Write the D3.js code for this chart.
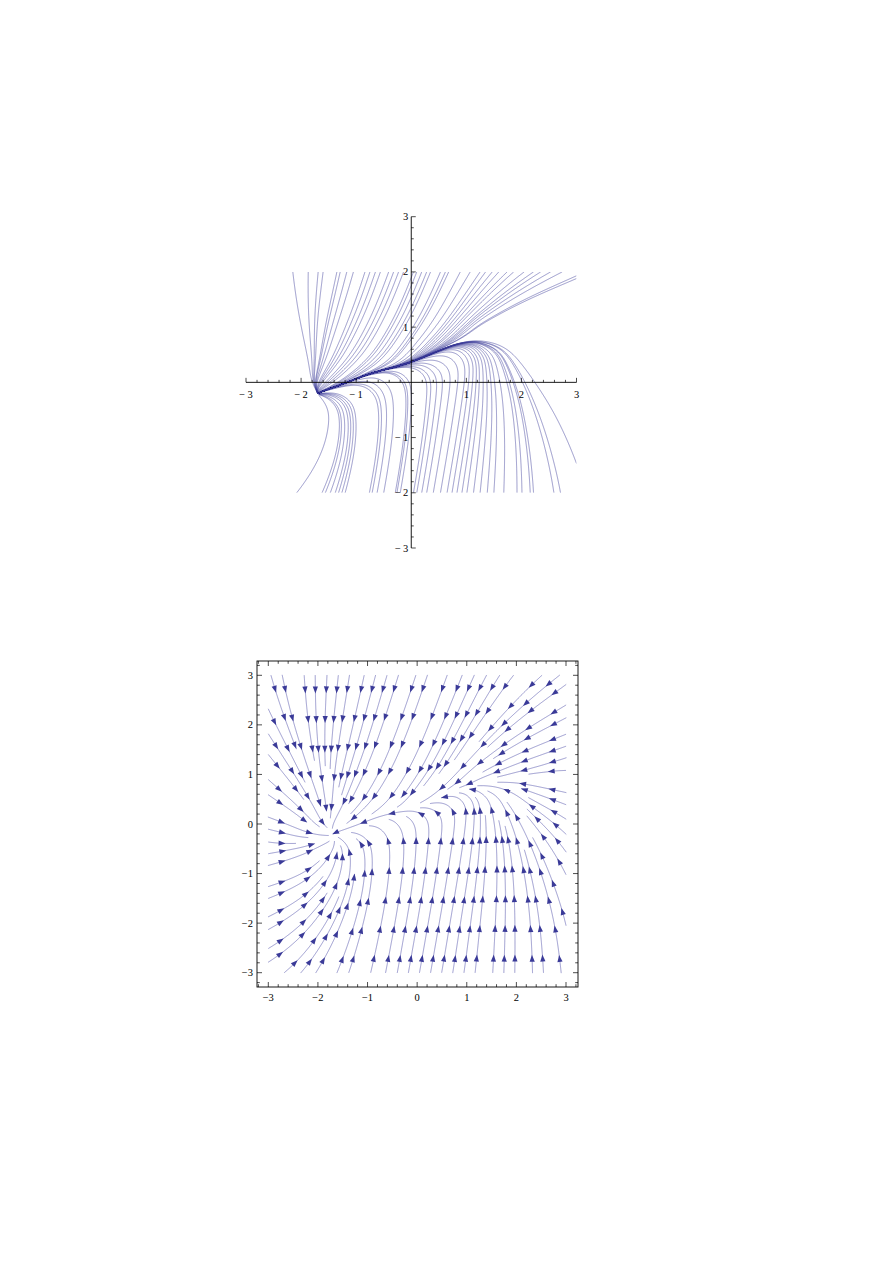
<!DOCTYPE html>
<html><head><meta charset="utf-8">
<script src="https://cdn.jsdelivr.net/npm/d3@7"></script>
<style>
body{margin:0;background:#fff}
svg{display:block}
text{font-family:"Liberation Serif","DejaVu Serif",serif;font-size:10.5px;fill:#000}
</style></head>
<body><svg id="c" width="893" height="1263"></svg>
<script>
// ---------- data ----------
const gridX = [-3,-2.5,-2,-1.5,-1,-0.5,0,0.5,1,1.5,2,2.5,3];
const gridY = [3,2.5,2,1.5,1,0.5,0,-0.5,-1,-1.5,-2,-2.5,-3];
const gridAngle = [
[-72,-85,-90,-97,-103,-107,-108,-109,-111,-118,-128,-137,-142],
[-65,-80,-90,-99,-105,-108,-109,-110,-114,-123,-134,-143,-148],
[-57,-74,-88,-100,-107,-110,-111,-112,-118,-130,-142,-150,-155],
[-50,-66,-85,-103,-110,-112,-113,-116,-124,-140,-152,-160,-165],
[-42,-56,-78,-106,-116,-119,-120,-124,-138,-158,-170,-176,178],
[-30,-44,-68,-112,-125,-125,-128,-161,78,105,135,158,165],
[-14,-25,-55,-150,-161,115,92,82,80,95,112,135,145],
[0,6,30,105,95,90,86,82,80,90,100,118,128],
[12,20,45,82,86,84,83,81,80,88,95,108,118],
[20,30,50,72,80,81,81,80,80,87,92,102,112],
[26,37,55,70,78,80,80,80,81,87,90,97,105],
[29,42,57,70,77,80,80,80,82,87,90,94,100],
[31,45,60,70,77,80,80,80,82,87,89,92,97]];
// attracting curves seen in both pictures
const mainX  = [-1.5,-1.2,-0.9,-0.6,-0.3,0,0.3,0.6,0.9,1.15];     // flow to the left
const mainY  = [-0.19,-0.09,0.02,0.12,0.22,0.32,0.43,0.54,0.65,0.74];
const rightX = [1.45,1.8,2.2,2.6,3.0];                            // flow to the left
const rightY = [0.82,0.89,0.97,1.06,1.18];
const leftX  = [-3.0,-2.6,-2.2,-1.9];                             // flow to the right
const leftY  = [-0.52,-0.45,-0.36,-0.29];
const nodeA  = [-1.7,-0.25];
// start points of the trajectories of the upper picture
const topStartX = [-2.15,-1.87,-1.69,-1.6,-1.35,-1.29,-1.17,-1.05,-0.84,-0.75,-0.65,-0.56,-0.41,-0.32,-0.23,-0.14,0.04,0.1,0.19,0.28,0.35,0.53,0.62,0.68,0.89,1.07,1.25,1.35,1.47,1.59,1.74,1.86,2.05,2.22,2.35,2.53,2.74];
const bottomStartX = [-2.08,-1.62,-1.56,-1.47,-1.38,-1.32,-1.26,-1.2,-0.76,-0.71,-0.62,-0.5,-0.29,-0.26,-0.2,0.04,0.1,0.19,0.28,0.4,0.53,0.65,0.74,0.83,0.92,1.01,1.13,1.25,1.38,1.5,1.68,1.92,2.01,2.16,2.22,2.59,2.71];
const rightStartY = [1.93,1.88,-1.47];
// tick labels
const axisTicks1 = [-3,-2,-1,1,2,3];
const frameTicks2 = [-3,-2,-1,0,1,2,3];

// ---------- vector field from the samples ----------
const samples = [];
gridY.forEach((gy,r)=>gridX.forEach((gx,c)=>{
  const a = gridAngle[r][c]*Math.PI/180;
  samples.push({x:gx,y:gy,u:Math.cos(a),v:Math.sin(a),s2:0.18,w:1});
}));
function addCurve(xs,ys,sign,k){
  xs.forEach((x,i)=>{
    const i0=Math.max(0,i-1), i1=Math.min(xs.length-1,i+1);
    let tx=(xs[i1]-xs[i0])*sign, ty=(ys[i1]-ys[i0])*sign;
    const L=Math.hypot(tx,ty); tx/=L; ty/=L;
    [[1,-k],[-1,k]].forEach(([side,dv])=>{
      const ux=tx, uy=ty+dv, m=Math.hypot(ux,uy);
      samples.push({x:x,y:ys[i]+side*0.09,u:ux/m,v:uy/m,s2:0.05,w:1.5});
    });
  });
}
addCurve(mainX,mainY,-1,1.4);
addCurve(rightX,rightY,-1,0.6);
addCurve(leftX,leftY,1,0.7);

const F0=-3.1, FS=0.025, FN=249;
const FU=new Float32Array(FN*FN), FV=new Float32Array(FN*FN);
for(let j=0;j<FN;j++){const y=F0+j*FS;
  for(let i=0;i<FN;i++){const x=F0+i*FS;
    let su=0,sv=0,sw=0;
    for(const s of samples){const dx=x-s.x, dy=y-s.y, d2=dx*dx+dy*dy;
      if(d2>1.2) continue;
      const w=s.w*Math.exp(-d2/s.s2); su+=w*s.u; sv+=w*s.v; sw+=w;}
    FU[j*FN+i]=sw>0?su/sw:0; FV[j*FN+i]=sw>0?sv/sw:0;
  }}
function field(x,y){
  let gx=(x-F0)/FS, gy=(y-F0)/FS;
  gx=Math.max(0,Math.min(FN-1.001,gx)); gy=Math.max(0,Math.min(FN-1.001,gy));
  const i=Math.floor(gx), j=Math.floor(gy), fx=gx-i, fy=gy-j;
  const a=j*FN+i, b=a+1, c=a+FN, d=c+1;
  const u=(FU[a]*(1-fx)+FU[b]*fx)*(1-fy)+(FU[c]*(1-fx)+FU[d]*fx)*fy;
  const v=(FV[a]*(1-fx)+FV[b]*fx)*(1-fy)+(FV[c]*(1-fx)+FV[d]*fx)*fy;
  return [u,v];
}
function dir(x,y,s){const f=field(x,y), m=Math.hypot(f[0],f[1]);
  return m<1e-9?[0,0,0]:[s*f[0]/m,s*f[1]/m,m];}
function rk4(x,y,s,h){
  const k1=dir(x,y,s), k2=dir(x+h/2*k1[0],y+h/2*k1[1],s),
        k3=dir(x+h/2*k2[0],y+h/2*k2[1],s), k4=dir(x+h*k3[0],y+h*k3[1],s);
  return [x+h/6*(k1[0]+2*k2[0]+2*k3[0]+k4[0]), y+h/6*(k1[1]+2*k2[1]+2*k3[1]+k4[1]), k1];
}
function trace(x0,y0,s,opt){
  const pts=[[x0,y0]]; let x=x0,y=y0, prev=null;
  for(let n=0;n<opt.max;n++){
    const r=rk4(x,y,s,opt.h);
    const d=r[2];
    if(d[2]<opt.minMag) break;
    if(prev && prev[0]*d[0]+prev[1]*d[1]<0) break;
    prev=d;
    x=r[0]; y=r[1];
    if(x<opt.x0||x>opt.x1||y<opt.y0||y>opt.y1){pts.push([x,y]);break;}
    if(opt.stop && opt.stop(x,y)) break;
    pts.push([x,y]);
  }
  return pts;
}

const svg=d3.select('#c');
const LINE="#3c3c9a";

// ================= upper picture =================
const x1=d3.scaleLinear().domain([-3,3]).range([246,576.5]);
const y1=d3.scaleLinear().domain([-3,3]).range([548,216.7]);
svg.append('clipPath').attr('id','clip1').append('rect')
  .attr('x',x1(-3)).attr('y',y1(2)).attr('width',x1(3)-x1(-3)).attr('height',y1(-2)-y1(2));
const g1=svg.append('g');
const seeds1=[];
topStartX.forEach(v=>seeds1.push([v,2]));
bottomStartX.forEach(v=>seeds1.push([v,-2]));
rightStartY.forEach(v=>seeds1.push([3,v]));
const opt1={h:0.01,max:3000,minMag:0.06,x0:-3.01,x1:3.01,y0:-2.01,y1:2.01,
  stop:(x,y)=>Math.hypot(x-nodeA[0],y-nodeA[1])<0.02};
const line1=d3.line().x(d=>x1(d[0])).y(d=>y1(d[1]));
const gl=g1.append('g').attr('clip-path','url(#clip1)');
seeds1.forEach(s=>{
  const p=trace(s[0],s[1],1,opt1);
  gl.append('path').attr('d',line1(p)).attr('fill','none')
    .attr('stroke',LINE).attr('stroke-width',0.6).attr('stroke-opacity',0.85);
});
const ax=g1.append('g').attr('stroke','#000').attr('stroke-width',0.9);
ax.append('line').attr('x1',x1(-3)).attr('x2',x1(3)).attr('y1',y1(0)).attr('y2',y1(0));
ax.append('line').attr('x1',x1(0)).attr('x2',x1(0)).attr('y1',y1(-3)).attr('y2',y1(3));
d3.range(-3,3.001,0.2).forEach(v=>{
  const major=Math.abs(v-Math.round(v))<1e-6, L=major?4.5:2.5;
  if(Math.abs(v)<1e-6) return;
  ax.append('line').attr('x1',x1(v)).attr('x2',x1(v)).attr('y1',y1(0)).attr('y2',y1(0)-L).attr('stroke-width',0.7);
  ax.append('line').attr('y1',y1(v)).attr('y2',y1(v)).attr('x1',x1(0)).attr('x2',x1(0)+L).attr('stroke-width',0.7);
});
const fmt=v=>v<0?"\u2212\u2009"+Math.abs(v):String(v);
axisTicks1.forEach(v=>{
  g1.append('text').attr('x',x1(v)).attr('y',y1(0)+16).attr('text-anchor','middle').text(fmt(v));
  g1.append('text').attr('x',x1(0)-3).attr('y',y1(v)+3.5).attr('text-anchor','end').text(fmt(v));
});

// ================= lower picture (stream plot) =================
const x2=d3.scaleLinear().domain([-3,3]).range([268.3,566]);
const y2=d3.scaleLinear().domain([-3,3]).range([972.7,675.3]);
const g2=svg.append('g');
const dsep=0.22, dtest=0.1, cell=0.11;
const hash=new Map();
const hk=(i,j)=>i*100000+j;
function addPt(x,y,id){const i=Math.floor((x+4)/cell), j=Math.floor((y+4)/cell), k=hk(i,j);
  if(!hash.has(k)) hash.set(k,[]); hash.get(k).push([x,y,id]);}
function near(x,y,r,id){
  const i=Math.floor((x+4)/cell), j=Math.floor((y+4)/cell), n=Math.ceil(r/cell);
  for(let di=-n;di<=n;di++)for(let dj=-n;dj<=n;dj++){
    const l=hash.get(hk(i+di,j+dj)); if(!l) continue;
    for(const p of l){ if(p[2]!==id && (p[0]-x)**2+(p[1]-y)**2<r*r) return true; }
  }
  return false;
}
const streams=[];
let sid=0;
function tryLine(x,y){
  if(x<-2.98||x>2.98||y<-2.98||y>2.98) return null;
  if(near(x,y,dsep,-1)) return null;
  const id=sid++;
  const opt={h:0.01,max:1500,minMag:0.06,x0:-3,x1:3,y0:-3,y1:3,stop:(px,py)=>near(px,py,dtest,id)};
  const f=trace(x,y,1,opt), b=trace(x,y,-1,opt);
  const pts=b.reverse().concat(f.slice(1));
  let L=0; for(let i=1;i<pts.length;i++) L+=Math.hypot(pts[i][0]-pts[i-1][0],pts[i][1]-pts[i-1][1]);
  if(L<0.2) return null;
  pts.forEach(p=>addPt(p[0],p[1],id));
  streams.push({pts,L});
  return pts;
}
function spread(pts,queue){
  for(let k=0;k<pts.length;k+=4){
    const a=pts[Math.max(0,k-1)], b=pts[Math.min(pts.length-1,k+1)];
    let tx=b[0]-a[0], ty=b[1]-a[1]; const m=Math.hypot(tx,ty); if(m<1e-9) continue; tx/=m; ty/=m;
    queue.push([pts[k][0]-ty*dsep, pts[k][1]+tx*dsep]);
    queue.push([pts[k][0]+ty*dsep, pts[k][1]-tx*dsep]);
  }
}
const cand=[[0,-2]];
for(let yy=2.9;yy>=-2.9;yy-=0.2) for(let xx=-2.9;xx<=2.9;xx+=0.2) cand.push([xx,yy]);
cand.forEach(c=>{
  const p=tryLine(c[0],c[1]); if(!p) return;
  const q=[]; spread(p,q);
  while(q.length){const s=q.shift(); const r=tryLine(s[0],s[1]); if(r) spread(r,q);}
});
const line2=d3.line().x(d=>x2(d[0])).y(d=>y2(d[1]));
const gs=g2.append('g');
const ga=g2.append('g');
streams.forEach(s=>{
  gs.append('path').attr('d',line2(s.pts)).attr('fill','none')
    .attr('stroke',"#5656ad").attr('stroke-width',0.7).attr('stroke-opacity',0.85);
  const sp=0.6; let next=s.L<0.6? s.L/2 : 0.3; let acc=0;
  for(let i=1;i<s.pts.length;i++){
    const a=s.pts[i-1], b=s.pts[i], d=Math.hypot(b[0]-a[0],b[1]-a[1]);
    while(d>0 && acc+d>=next){
      const t=(next-acc)/d, px=a[0]+(b[0]-a[0])*t, py=a[1]+(b[1]-a[1])*t;
      const X=x2(px), Y=y2(py);
      let dx=x2(b[0])-x2(a[0]), dy=y2(b[1])-y2(a[1]); const m=Math.hypot(dx,dy); dx/=m; dy/=m;
      const Lh=7, W=2.6, tx=X+dx*3.5, ty=Y+dy*3.5;
      const bx=tx-dx*Lh, by=ty-dy*Lh;
      ga.append('path').attr('d',`M${tx},${ty}L${bx-dy*W},${by+dx*W}L${bx+dy*W},${by-dx*W}Z`)
        .attr('fill','#3a3a98');
      next+=sp;
    }
    acc+=d;
  }
});
const fx0=257, fx1=578, fy0=661, fy1=987;
const fr=g2.append('g').attr('stroke','#000');
fr.append('rect').attr('x',fx0).attr('y',fy0).attr('width',fx1-fx0).attr('height',fy1-fy0)
  .attr('fill','none').attr('stroke-width',0.9);
d3.range(-3.2,3.201,0.2).forEach(v=>{
  const major=Math.abs(v-Math.round(v))<1e-6, L=major?5:2.8;
  const X=x2(v), Y=y2(v);
  if(X>fx0+0.5&&X<fx1-0.5){
    fr.append('line').attr('x1',X).attr('x2',X).attr('y1',fy1).attr('y2',fy1-L).attr('stroke-width',0.7);
    fr.append('line').attr('x1',X).attr('x2',X).attr('y1',fy0).attr('y2',fy0+L).attr('stroke-width',0.7);
  }
  if(Y>fy0+0.5&&Y<fy1-0.5){
    fr.append('line').attr('y1',Y).attr('y2',Y).attr('x1',fx0).attr('x2',fx0+L).attr('stroke-width',0.7);
    fr.append('line').attr('y1',Y).attr('y2',Y).attr('x1',fx1).attr('x2',fx1-L).attr('stroke-width',0.7);
  }
});
const fmt2=v=>v<0?"\u2212"+Math.abs(v):String(v);
frameTicks2.forEach(v=>{
  g2.append('text').attr('x',x2(v)).attr('y',1001).attr('text-anchor','middle').text(fmt2(v));
  g2.append('text').attr('x',253).attr('y',y2(v)+3.5).attr('text-anchor','end').text(fmt2(v));
});
</script></body></html>
